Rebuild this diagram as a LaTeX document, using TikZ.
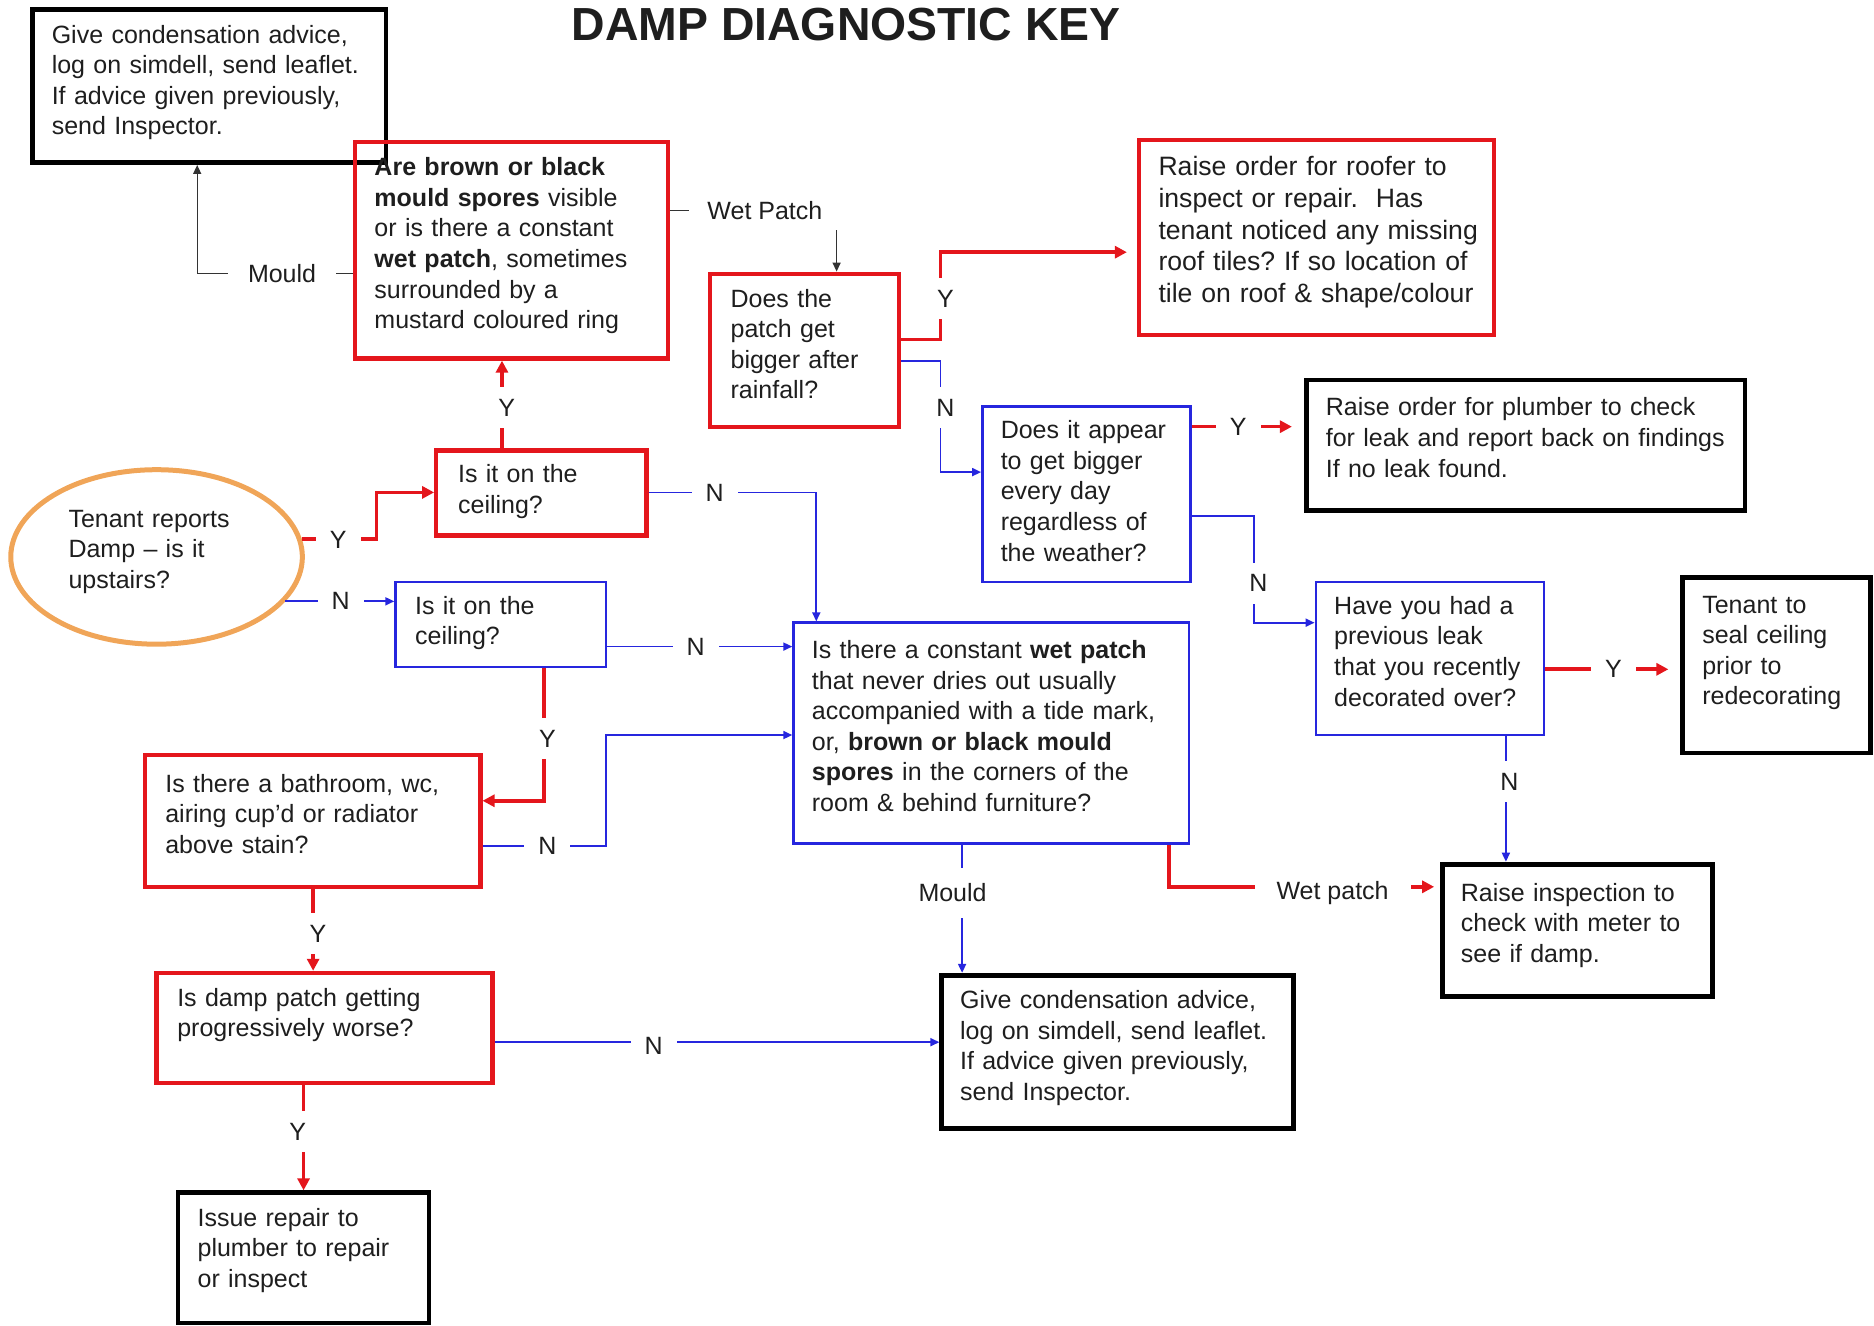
\documentclass[tikz,border=0pt]{standalone}
\usepackage{fontspec}
\setmainfont{Liberation Sans}
\usetikzlibrary{arrows.meta,fit,shapes.geometric}
\definecolor{dred}{RGB}{228,22,28}
\definecolor{dblue}{RGB}{38,38,222}
\definecolor{dorange}{RGB}{240,165,88}
\definecolor{dtext}{RGB}{30,30,30}
\newcommand\bodyfont{\fontsize{12.5pt}{15.3pt}\selectfont}
\newcommand\bigbodyfont{\fontsize{13.3pt}{15.84pt}\selectfont}
\frenchspacing
\tikzset{
  blackbox/.style={draw=black, line width=2.4pt, inner sep=0pt},
  redbox/.style={draw=dred, line width=2.1pt, inner sep=0pt},
  bluebox/.style={draw=dblue, line width=1.3pt, inner sep=0pt},
  txt/.style={anchor=base west, inner sep=0pt, align=left, text width=12cm, font=\bodyfont, text=dtext},
  lbl/.style={fill=white, inner xsep=7pt, inner ysep=1pt, font=\bodyfont, text=dtext},
  vlbl/.style={fill=white, inner xsep=2pt, inner ysep=6pt, font=\bodyfont, text=dtext},
  redarr/.style={draw=dred, line width=1.8pt, -{Triangle[length=6pt,width=6pt]}},
  bluearr/.style={draw=dblue, line width=0.9pt, -{Triangle[length=4.5pt,width=4pt]}},
  blackarr/.style={draw=black!80, line width=0.7pt, -{Triangle[length=4.5pt,width=4pt]}},
}
\begin{document}
\begin{tikzpicture}[x=0.5976pt, y=-0.5976pt]
\useasboundingbox (0,0) rectangle (1568,1109);

% title
\node[anchor=base, inner sep=0pt, font=\fontsize{23.2pt}{28pt}\selectfont\bfseries, text=dtext] (title) at (708,34) {DAMP DIAGNOSTIC KEY};

% boxes
\node[blackbox, fit={(27,8) (323,136)}] (A) {};
\node[redbox,   fit={(297,119) (559,300)}] (B) {};
\node[redbox,   fit={(594,229) (752,357)}] (C) {};
\node[redbox,   fit={(953,117) (1250,280)}] (D) {};
\node[bluebox,  fit={(822,340) (996,487)}] (E) {};
\node[blackbox, fit={(1093,318) (1460,427)}] (F) {};
\node[bluebox,  fit={(1101,487) (1292,615)}] (G) {};
\node[blackbox, fit={(1408,483) (1565,630)}] (H) {};
\node[blackbox, fit={(1207,723) (1433,834)}] (I) {};
\node[redbox,   fit={(365,377) (541,448)}] (J) {};
\node[bluebox,  fit={(664,521) (995,706)}] (K) {};
\node[bluebox,  fit={(331,487) (507,558)}] (L) {};
\node[redbox,   fit={(121,632) (402,742)}] (M) {};
\node[blackbox, fit={(788,816) (1082,944)}] (N) {};
\node[redbox,   fit={(131,814) (412,906)}] (O) {};
\node[blackbox, fit={(149,998) (359,1107)}] (P) {};
\node[draw=dorange, line width=2.5pt, ellipse, minimum width=145.8pt, minimum height=87.25pt, inner sep=0pt] (T) at (131,466) {};

% texts
\node[txt] (tA) at (43,36) {Give condensation advice,\\log on simdell, send leaflet.\\If advice given previously,\\send Inspector.};
\node[txt] (tB) at (313,147) {\textbf{Are brown or black}\\\textbf{mould spores} visible\\or is there a constant\\\textbf{wet patch}, sometimes\\surrounded by a\\mustard coloured ring};
\node[txt] (tC) at (611,257) {Does the\\patch get\\bigger after\\rainfall?};
\node[txt, font=\bigbodyfont] (tD) at (969,147) {Raise order for roofer to\\inspect or repair.\ \ Has\\tenant noticed any missing\\roof tiles? If so location of\\tile on roof \& shape/colour};
\node[txt] (tE) at (837,367) {Does it appear\\to get bigger\\every day\\regardless of\\the weather?};
\node[txt] (tF) at (1109,348) {Raise order for plumber to check\\for leak and report back on findings\\If no leak found.};
\node[txt] (tG) at (1116,514) {Have you had a\\previous leak\\that you recently\\decorated over?};
\node[txt] (tH) at (1424,513) {Tenant to\\seal ceiling\\prior to\\redecorating};
\node[txt] (tI) at (1222,754) {Raise inspection to\\check with meter to\\see if damp.};
\node[txt] (tJ) at (383,404) {Is it on the\\ceiling?};
\node[txt] (tK) at (679,551) {Is there a constant \textbf{wet patch}\\that never dries out usually\\accompanied with a tide mark,\\or, \textbf{brown or black mould}\\\textbf{spores} in the corners of the\\room \& behind furniture?};
\node[txt] (tL) at (347,514) {Is it on the\\ceiling?};
\node[txt] (tM) at (138,663) {Is there a bathroom, wc,\\airing cup’d or radiator\\above stain?};
\node[txt] (tN) at (803,844) {Give condensation advice,\\log on simdell, send leaflet.\\If advice given previously,\\send Inspector.};
\node[txt] (tO) at (148,842) {Is damp patch getting\\progressively worse?};
\node[txt] (tP) at (165,1026) {Issue repair to\\plumber to repair\\or inspect};
\node[txt] (tT) at (57,441) {Tenant reports\\Damp – is it\\upstairs?};

% connectors
\draw[blackarr] (B.west |- 0,229) -| (A.south -| 165,0);
\draw[blackarr] (B.east |- 0,176) -| (C.north -| 700,0);
\draw[redarr, shorten >=5pt] (C.east |- 0,284) -| (787,211) -- (D.west |- 0,211);
\draw[bluearr] (C.east |- 0,302) -| (787,395) -- (E.west |- 0,395);
\draw[redarr, shorten >=6pt] (E.east |- 0,357) -- (F.west |- 0,357);
\draw[bluearr] (E.east |- 0,432) -| (1049,521) -- (G.west |- 0,521);
\draw[redarr, shorten >=6pt] (G.east |- 0,560) -- (H.west |- 0,560);
\draw[bluearr] (G.south -| 1260,0) -- (I.north -| 1260,0);
\draw[redarr] (T.7) -| (315,412) -- (J.west |- 0,412);
\draw[redarr] (J.north -| 420,0) -- (B.south -| 420,0);
\draw[bluearr] (J.east |- 0,412) -| (K.north -| 683,0);
\draw[bluearr] (T.-19) -- (L.west |- T.-19);
\draw[bluearr] (L.east |- 0,541) -- (K.west |- 0,541);
\draw[redarr] (L.south -| 455,0) |- (M.east |- 0,670);
\draw[bluearr] (M.east |- 0,708) -| (507,615) -- (K.west |- 0,615);
\draw[bluearr] (K.south -| 805,0) -- (N.north -| 805,0);
\draw[redarr, shorten >=3pt] (K.south -| 978,0) |- (I.west |- 0,742);
\draw[redarr] (M.south -| 262,0) -- (O.north -| 262,0);
\draw[bluearr] (O.east |- 0,872) -- (N.west |- 0,872);
\draw[redarr] (O.south -| 254,0) -- (P.north -| 254,0);

% labels
\node[lbl, inner xsep=10pt] (lMould1) at (236,229) {Mould};
\node[lbl, inner xsep=9pt, inner ysep=5pt] (lWet1) at (640,176) {Wet Patch};
\node[vlbl] (lY1) at (791,250) {Y};
\node[vlbl] (lN1) at (791,341) {N};
\node[lbl] (lY2) at (1036,357) {Y};
\node[vlbl] (lN2) at (1053,488) {N};
\node[lbl] (lY3) at (1350,560) {Y};
\node[vlbl] (lN3) at (1263,654) {N};
\node[lbl] (lY4) at (283,452) {Y};
\node[vlbl] (lY5) at (424,341) {Y};
\node[lbl] (lN4) at (598,412) {N};
\node[lbl] (lN5) at (285,503) {N};
\node[lbl] (lN6) at (582,541) {N};
\node[vlbl] (lY6) at (458,618) {Y};
\node[lbl] (lN7) at (458,708) {N};
\node[vlbl, inner ysep=8pt] (lMould2) at (797,747) {Mould};
\node[lbl, inner xsep=11pt] (lWet2) at (1115,747) {Wet patch};
\node[vlbl] (lY7) at (266,781) {Y};
\node[lbl] (lN8) at (547,875) {N};
\node[vlbl] (lY8) at (249,947) {Y};
\end{tikzpicture}
\end{document}
